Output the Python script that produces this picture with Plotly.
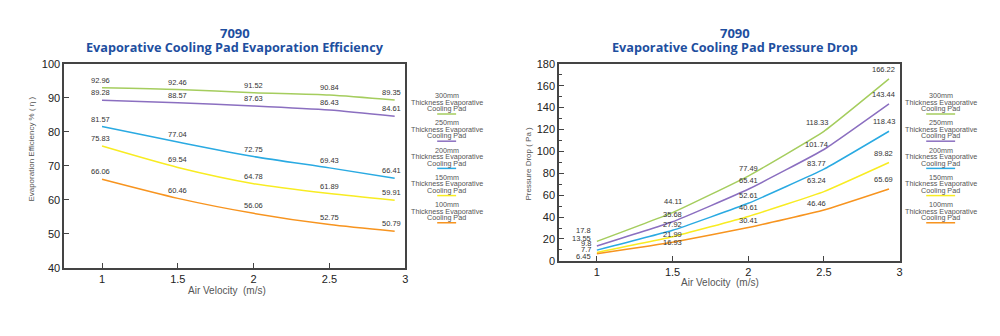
import plotly.graph_objects as go

# Air velocity (m/s) at which each pad was measured
velocity = [1, 1.5, 2, 2.5, 2.93]
x_ticks = [1, 1.5, 2, 2.5, 3]
x_tick_text = ["1", "1.5", "2", "2.5", "3"]

pad_names = ["300mm", "250mm", "200mm", "150mm", "100mm"]
pad_colors = ["#a5cd5e", "#8b6fc0", "#2aaae2", "#f8ec22", "#f7941f"]

# Evaporation efficiency, % (η)
eff_300 = [92.96, 92.46, 91.52, 90.84, 89.35]
eff_250 = [89.28, 88.57, 87.63, 86.43, 84.61]
eff_200 = [81.57, 77.04, 72.75, 69.43, 66.41]
eff_150 = [75.83, 69.54, 64.78, 61.89, 59.91]
eff_100 = [66.06, 60.46, 56.06, 52.75, 50.79]

# Pressure drop, Pa
pd_300 = [17.8, 44.11, 77.49, 118.33, 166.22]
pd_250 = [13.55, 35.68, 65.41, 101.74, 143.44]
pd_200 = [9.8, 27.92, 52.61, 83.77, 118.43]
pd_150 = [7.7, 21.99, 40.61, 63.24, 89.82]
pd_100 = [6.45, 16.93, 30.41, 46.46, 65.69]

efficiency = [eff_300, eff_250, eff_200, eff_150, eff_100]
pressure = [pd_300, pd_250, pd_200, pd_150, pd_100]

W, H = 1000, 336
TITLE_BLUE = "#1e4f9f"
AXIS = "#444444"
LABEL = "#333333"
SOFT = "#555555"


def px(x):
    return x / W


def py(y):
    return 1 - y / H


def note(x, y, text, size, color, family="Liberation Sans", **kw):
    d = dict(x=px(x), y=py(y), xref="paper", yref="paper", text=text,
             showarrow=False, xanchor="center", yanchor="middle",
             font=dict(size=size, color=color, family=family))
    d.update(kw)
    return d


fig = go.Figure()

for name, color, vals in zip(pad_names, pad_colors, efficiency):
    fig.add_trace(go.Scatter(
        x=velocity, y=vals, mode="lines", name=name,
        line=dict(color=color, width=1.5, shape="spline", smoothing=0.7),
        xaxis="x", yaxis="y", hoverinfo="skip", showlegend=False))

for name, color, vals in zip(pad_names, pad_colors, pressure):
    fig.add_trace(go.Scatter(
        x=velocity, y=vals, mode="lines", name=name,
        line=dict(color=color, width=1.5, shape="spline", smoothing=0.35),
        xaxis="x2", yaxis="y2", hoverinfo="skip", showlegend=False))

annotations = []
shapes = []
val_font = dict(size=7.5, color=LABEL, family="Liberation Sans")

# value labels, efficiency chart: just above each point
for vals in efficiency:
    for k, (xv, v) in enumerate(zip(velocity, vals)):
        annotations.append(dict(
            x=xv, y=v, xref="x", yref="y", text=f"{v:g}", showarrow=False,
            xanchor="center", yanchor="bottom",
            yshift=1, xshift=-2 if k == 0 else (-3 if k == 4 else 0),
            font=val_font))

# value labels, pressure chart: pixel lift of each label per column,
# first column stacked to the left of the line starts
lift_cols = [
    [11, 8, 6.5, 2.5, -3],
    [7, 3.5, 1.5, -1.5, -4],
    [4, 5, 3.5, 5, 3.5],
    [4.5, 1, 1.5, 7, 3],
    [5, 5.5, 5.5, 5.5, 5],
]
shift_cols = [-3.5, 0, 0, -7, -5]
for s, vals in enumerate(pressure):
    for k, (xv, v) in enumerate(zip(velocity, vals)):
        annotations.append(dict(
            x=xv, y=v, xref="x2", yref="y2", text=f"{v:g}", showarrow=False,
            xanchor="right" if k == 0 else "center", yanchor="middle",
            xshift=shift_cols[k], yshift=lift_cols[k][s] + (0 if k == 0 else 4),
            font=val_font))

# titles
for cx, sub in [(236, "Evaporative Cooling Pad Evaporation Efficiency"),
                (737, "Evaporative Cooling Pad Pressure Drop")]:
    annotations.append(note(cx, 28, "<b>7090</b>", 13, TITLE_BLUE, "Open Sans"))
    annotations.append(note(cx, 42, f"<b>{sub}</b>", 12.7, TITLE_BLUE, "Open Sans"))

# axis titles
annotations.append(note(228, 295, "Air Velocity\u00a0\u00a0(m/s)", 10, SOFT))
annotations.append(note(722, 287, "Air Velocity\u00a0\u00a0(m/s)", 10, SOFT))
annotations.append(note(32, 148, "Evaporation Efficiency % ( η )", 8, SOFT,
                        textangle=-90))
annotations.append(note(530, 163, "Pressure Drop ( Pa )", 8, SOFT,
                        textangle=-90))

# custom legends beside each chart
for cx, half in [(448, 9.5), (943.5, 14.5)]:
    for i, (name, color) in enumerate(zip(pad_names, pad_colors)):
        top = 93 + 28.2 * i
        for j, line in enumerate([name, "Thickness Evaporative", "Cooling Pad"]):
            annotations.append(note(cx, top + 6.8 * j, line, 7.2, SOFT))
        shapes.append(dict(type="line", xref="paper", yref="paper",
                           x0=px(cx - half), x1=px(cx + half),
                           y0=py(top + 19), y1=py(top + 19),
                           line=dict(color=color, width=1.5)))

axis_common = dict(showline=True, mirror=True, linecolor=AXIS, linewidth=1.5,
                   ticks="inside", tickcolor=AXIS, tickwidth=1, showgrid=False,
                   zeroline=False,
                   tickfont=dict(size=11, color="#222222", family="Liberation Sans"))

fig.update_layout(
    width=W, height=H,
    margin=dict(l=0, r=0, t=0, b=0),
    paper_bgcolor="white", plot_bgcolor="white",
    showlegend=False,
    annotations=annotations, shapes=shapes,
    xaxis=dict(domain=[px(64.3), px(406.5)], range=[0.75, 3],
               tickvals=x_ticks, ticktext=x_tick_text, ticklen=5,
               anchor="y", **axis_common),
    yaxis=dict(domain=[py(271.7), py(60)], range=[40, 100], dtick=10,
               ticklen=5, anchor="x", **axis_common),
    xaxis2=dict(domain=[px(560.7), px(902.3)], range=[0.75, 3],
                tickvals=x_ticks, ticktext=x_tick_text, ticklen=5,
                anchor="y2", **axis_common),
    yaxis2=dict(domain=[py(264.3), py(60)], range=[0, 180], dtick=20,
                ticklen=5, anchor="x2",
                minor=dict(dtick=10, ticks="inside", ticklen=3, tickcolor=AXIS),
                **axis_common),
)

fig.write_html("out.html")
